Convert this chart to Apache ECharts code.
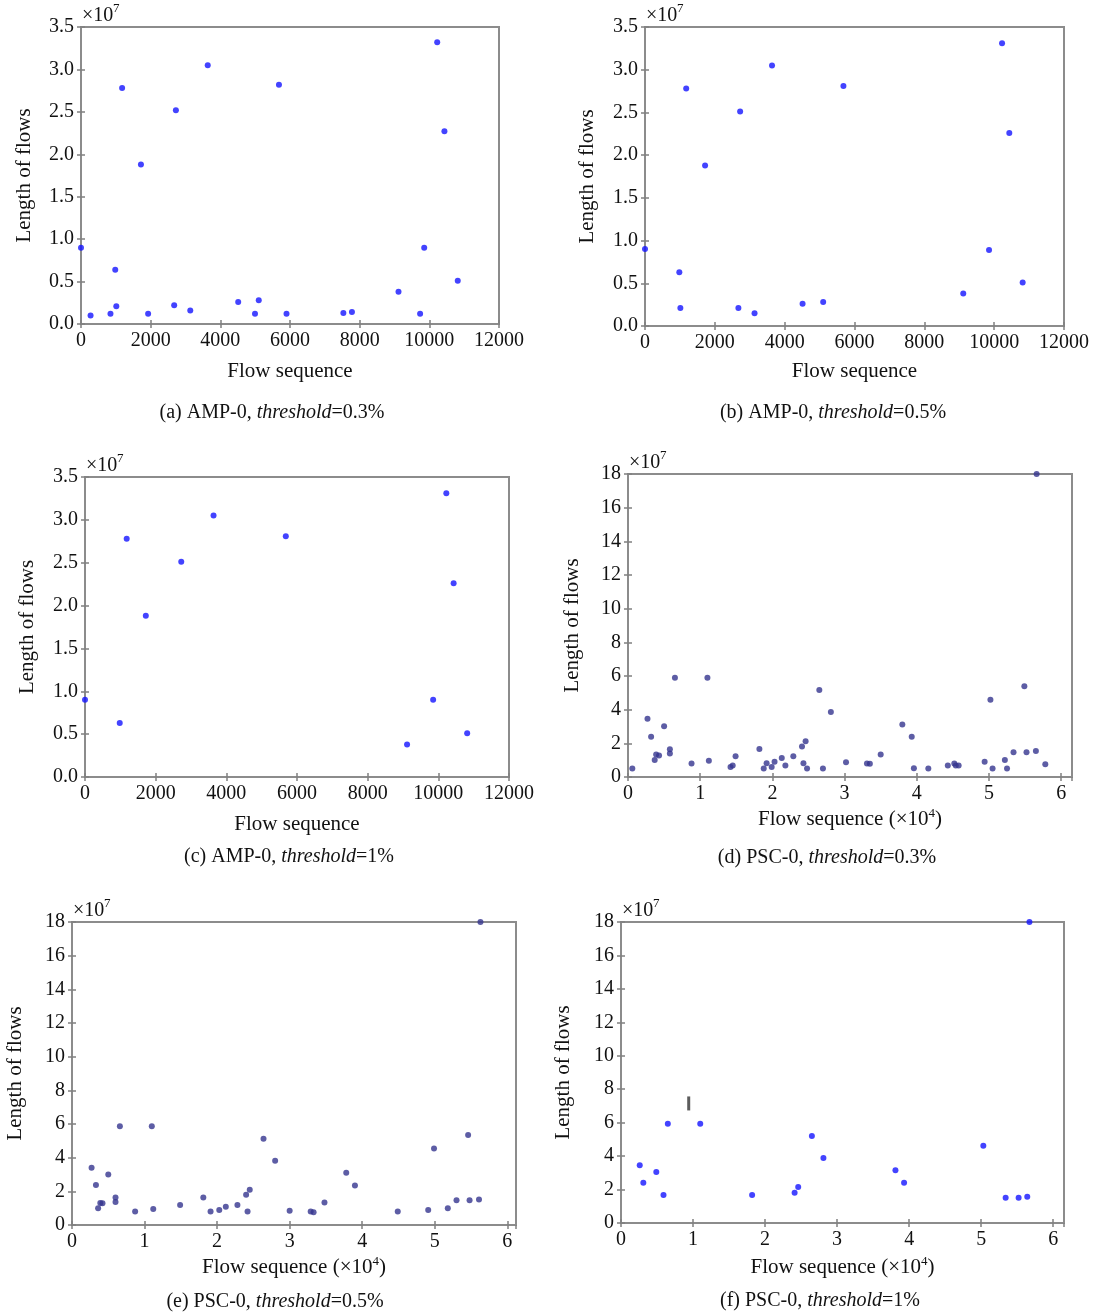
<!DOCTYPE html>
<html>
<head>
<meta charset="utf-8">
<script src="https://cdn.jsdelivr.net/npm/echarts@6/dist/echarts.min.js"></script>
<style>
  html, body { margin: 0; padding: 0; background: #fff; }
  #main { width: 1095px; height: 1315px; }
</style>
</head>
<body>
<div id="main"></div>
<script>
// (a) AMP-0, threshold=0.3%  (x: flow index, y: length x1e7)
var ampX03 = [0, 275, 846, 983, 1013, 1180, 1721, 1927, 2675, 2724, 3137, 3638, 4513, 4995, 5103, 5683, 5900, 7532, 7778, 9115, 9735, 9853, 10226, 10433, 10816];
var ampY03 = [0.90, 0.10, 0.12, 0.64, 0.21, 2.78, 1.88, 0.12, 0.22, 2.52, 0.16, 3.05, 0.26, 0.12, 0.28, 2.82, 0.12, 0.13, 0.14, 0.38, 0.12, 0.90, 3.32, 2.27, 0.51];
// (b) AMP-0, threshold=0.5%
var ampX05 = [0, 983, 1013, 1180, 1721, 2675, 2724, 3137, 3638, 4513, 5103, 5683, 9115, 9853, 10226, 10433, 10816];
var ampY05 = [0.90, 0.63, 0.21, 2.78, 1.88, 0.21, 2.51, 0.15, 3.05, 0.26, 0.28, 2.81, 0.38, 0.89, 3.31, 2.26, 0.51];
// (c) AMP-0, threshold=1%
var ampX1 = [0, 983, 1180, 1721, 2724, 3638, 5683, 9115, 9853, 10226, 10433, 10816];
var ampY1 = [0.90, 0.63, 2.78, 1.88, 2.51, 3.05, 2.81, 0.38, 0.90, 3.31, 2.26, 0.51];
// (d) PSC-0, threshold=0.3%  (x: flow index x1e4, y: length x1e7)
var pscX03 = [0.06, 0.27, 0.32, 0.37, 0.39, 0.43, 0.50, 0.58, 0.58, 0.65, 0.88, 1.10, 1.12, 1.42, 1.45, 1.49, 1.82, 1.88, 1.92, 1.99,
  2.03, 2.13, 2.18, 2.29, 2.41, 2.43, 2.46, 2.48, 2.65, 2.70, 2.81, 3.02, 3.31, 3.35, 3.50, 3.80, 3.93, 3.96, 4.16, 4.43,
  4.52, 4.54, 4.58, 4.94, 5.02, 5.05, 5.22, 5.25, 5.34, 5.49, 5.52, 5.65, 5.66, 5.78];
var pscY03 = [0.50, 3.46, 2.39, 1.01, 1.33, 1.27, 3.02, 1.65, 1.39, 5.90, 0.80, 5.90, 0.97, 0.60, 0.68, 1.23, 1.67, 0.50, 0.82, 0.60,
  0.91, 1.13, 0.68, 1.23, 1.81, 0.82, 2.13, 0.50, 5.17, 0.50, 3.86, 0.87, 0.80, 0.78, 1.33, 3.12, 2.39, 0.52, 0.50, 0.68,
  0.80, 0.68, 0.68, 0.91, 4.59, 0.50, 1.01, 0.50, 1.47, 5.39, 1.47, 1.55, 18.0, 0.76];
// (e) PSC-0, threshold=0.5%
var pscX05 = [0.27, 0.33, 0.36, 0.39, 0.42, 0.50, 0.60, 0.60, 0.66, 0.87, 1.10, 1.12, 1.49, 1.81, 1.91, 2.03, 2.12, 2.28, 2.40, 2.42,
  2.45, 2.64, 2.80, 3.00, 3.29, 3.33, 3.48, 3.78, 3.90, 4.49, 4.91, 4.99, 5.18, 5.30, 5.46, 5.48, 5.61, 5.63];
var pscY05 = [3.40, 2.37, 0.99, 1.31, 1.29, 3.00, 1.63, 1.37, 5.86, 0.80, 5.86, 0.95, 1.19, 1.63, 0.80, 0.89, 1.09, 1.19, 1.79, 0.80,
  2.09, 5.13, 3.82, 0.85, 0.80, 0.76, 1.33, 3.10, 2.35, 0.80, 0.89, 4.55, 0.99, 1.47, 5.35, 1.47, 1.51, 18.0];
// (f) PSC-0, threshold=1%
var pscX1 = [0.26, 0.31, 0.49, 0.59, 0.65, 1.10, 1.82, 2.41, 2.46, 2.65, 2.81, 3.81, 3.93, 5.03, 5.34, 5.52, 5.64, 5.67];
var pscY1 = [3.45, 2.41, 3.05, 1.67, 5.94, 5.94, 1.67, 1.81, 2.15, 5.20, 3.88, 3.15, 2.41, 4.62, 1.51, 1.51, 1.57, 18.0];
// stray cursor mark in (f)
var markX = [0.94];
var markY = [7.15];

var FONT = 'Liberation Serif';

var panels = [
  { grid: { left: 81, top: 27, width: 418, height: 297 }, x: ampX03, y: ampY03, xmax: 12000, xstep: 2000, ymax: 3.5, ystep: 0.5, dec: 1,
    xName: 'Flow sequence', xGap: 37, yGap: 46, color: '#1414ff', cap: ['(a) AMP-0, ', '=0.3%'], capPos: [272, 413] },
  { grid: { left: 645, top: 27, width: 419, height: 299 }, x: ampX05, y: ampY05, xmax: 12000, xstep: 2000, ymax: 3.5, ystep: 0.5, dec: 1,
    xName: 'Flow sequence', xGap: 35, yGap: 47, color: '#1414ff', cap: ['(b) AMP-0, ', '=0.5%'], capPos: [833, 413] },
  { grid: { left: 85, top: 477, width: 424, height: 300 }, x: ampX1, y: ampY1, xmax: 12000, xstep: 2000, ymax: 3.5, ystep: 0.5, dec: 1,
    xName: 'Flow sequence', xGap: 37, yGap: 47, color: '#1414ff', cap: ['(c) AMP-0, ', '=1%'], capPos: [289, 857] },
  { grid: { left: 628, top: 474, width: 444, height: 303 }, x: pscX03, y: pscY03, xmax: 6.15, xstep: 1, ymax: 18, ystep: 2, dec: 0,
    xName: 'Flow sequence (×10{s|4})', xGap: 30, yGap: 45, color: '#34348f', cap: ['(d) PSC-0, ', '=0.3%'], capPos: [827, 858] },
  { grid: { left: 72, top: 922, width: 444, height: 303 }, x: pscX05, y: pscY05, xmax: 6.12, xstep: 1, ymax: 18, ystep: 2, dec: 0,
    xName: 'Flow sequence (×10{s|4})', xGap: 30, yGap: 46, color: '#34348f', cap: ['(e) PSC-0, ', '=0.5%'], capPos: [275, 1302] },
  { grid: { left: 621, top: 922, width: 443, height: 301 }, x: pscX1, y: pscY1, xmax: 6.15, xstep: 1, ymax: 18, ystep: 2, dec: 0,
    xName: 'Flow sequence (×10{s|4})', xGap: 32, yGap: 47, color: '#1414ff', cap: ['(f) PSC-0, ', '=1%'], capPos: [820, 1301] }
];

var tickStyle = { show: true, inside: true, length: 4, lineStyle: { color: '#808080', width: 1.5 } };
var grids = [], xAxes = [], yAxes = [], series = [], graphics = [];

panels.forEach(function (p, i) {
  grids.push(Object.assign({ show: true, borderColor: '#8c8c8c', borderWidth: 2, containLabel: false }, p.grid));
  var xBase = { type: 'value', gridIndex: i, min: 0, max: p.xmax, interval: p.xstep, splitLine: { show: false },
    axisLine: { show: false }, axisTick: tickStyle };
  var yBase = { type: 'value', gridIndex: i, min: 0, max: p.ymax, interval: p.ystep, splitLine: { show: false },
    axisLine: { show: false }, axisTick: tickStyle };
  xAxes.push(Object.assign({}, xBase, {
    position: 'bottom',
    name: p.xName, nameLocation: 'middle', nameGap: p.xGap,
    nameTextStyle: { fontFamily: FONT, fontSize: 21, color: '#111',
      rich: { s: { fontFamily: FONT, fontSize: 13, color: '#111', verticalAlign: 'top', padding: [0, 0, 12, 0] } } },
    axisLabel: { fontFamily: FONT, fontSize: 20, color: '#111', margin: 7, showMaxLabel: p.xmax === 12000,
      formatter: function (v) { return String(v); } }
  }));
  xAxes.push(Object.assign({}, xBase, { position: 'top', axisLabel: { show: false } }));
  yAxes.push(Object.assign({}, yBase, {
    position: 'left',
    name: 'Length of flows', nameLocation: 'middle', nameGap: p.yGap, nameRotate: 90,
    nameTextStyle: { fontFamily: FONT, fontSize: 21, color: '#111' },
    axisLabel: { fontFamily: FONT, fontSize: 20, color: '#111', margin: 7,
      formatter: (function (d) { return function (v) { return v.toFixed(d); }; })(p.dec) }
  }));
  yAxes.push(Object.assign({}, yBase, { position: 'right', axisLabel: { show: false } }));

  series.push({
    type: 'scatter', xAxisIndex: 2 * i, yAxisIndex: 2 * i,
    symbol: 'circle', symbolSize: 6, clip: false,
    itemStyle: { color: p.color },
    data: p.x.map(function (v, k) { return [v, p.y[k]]; })
  });

  // x10^7 multiplier above the y axis
  graphics.push({ type: 'text', x: p.grid.left + 1, y: p.grid.top - 1,
    style: { text: '×10', font: '20px "' + FONT + '"', fill: '#111', textVerticalAlign: 'bottom' } });
  graphics.push({ type: 'text', x: p.grid.left + 32, y: p.grid.top - 12,
    style: { text: '7', font: '13px "' + FONT + '"', fill: '#111', textVerticalAlign: 'bottom' } });

  // caption under the panel
  graphics.push({ type: 'text', x: p.capPos[0], y: p.capPos[1],
    style: {
      text: p.cap[0] + '{i|threshold}' + p.cap[1],
      font: '20px "' + FONT + '"', fill: '#111', textAlign: 'center', textVerticalAlign: 'middle',
      rich: { i: { fontFamily: FONT, fontSize: 20, fontStyle: 'italic', fill: '#111' } }
    } });
});

series.push({
  type: 'scatter', xAxisIndex: 10, yAxisIndex: 10,
  symbol: 'rect', symbolSize: [3, 14],
  itemStyle: { color: '#333' },
  data: markX.map(function (v, k) { return [v, markY[k]]; })
});

var myChart = echarts.init(document.getElementById('main'));
myChart.setOption({
  animation: false,
  backgroundColor: '#fff',
  grid: grids,
  xAxis: xAxes,
  yAxis: yAxes,
  series: series,
  graphic: graphics
});
</script>
</body>
</html>
